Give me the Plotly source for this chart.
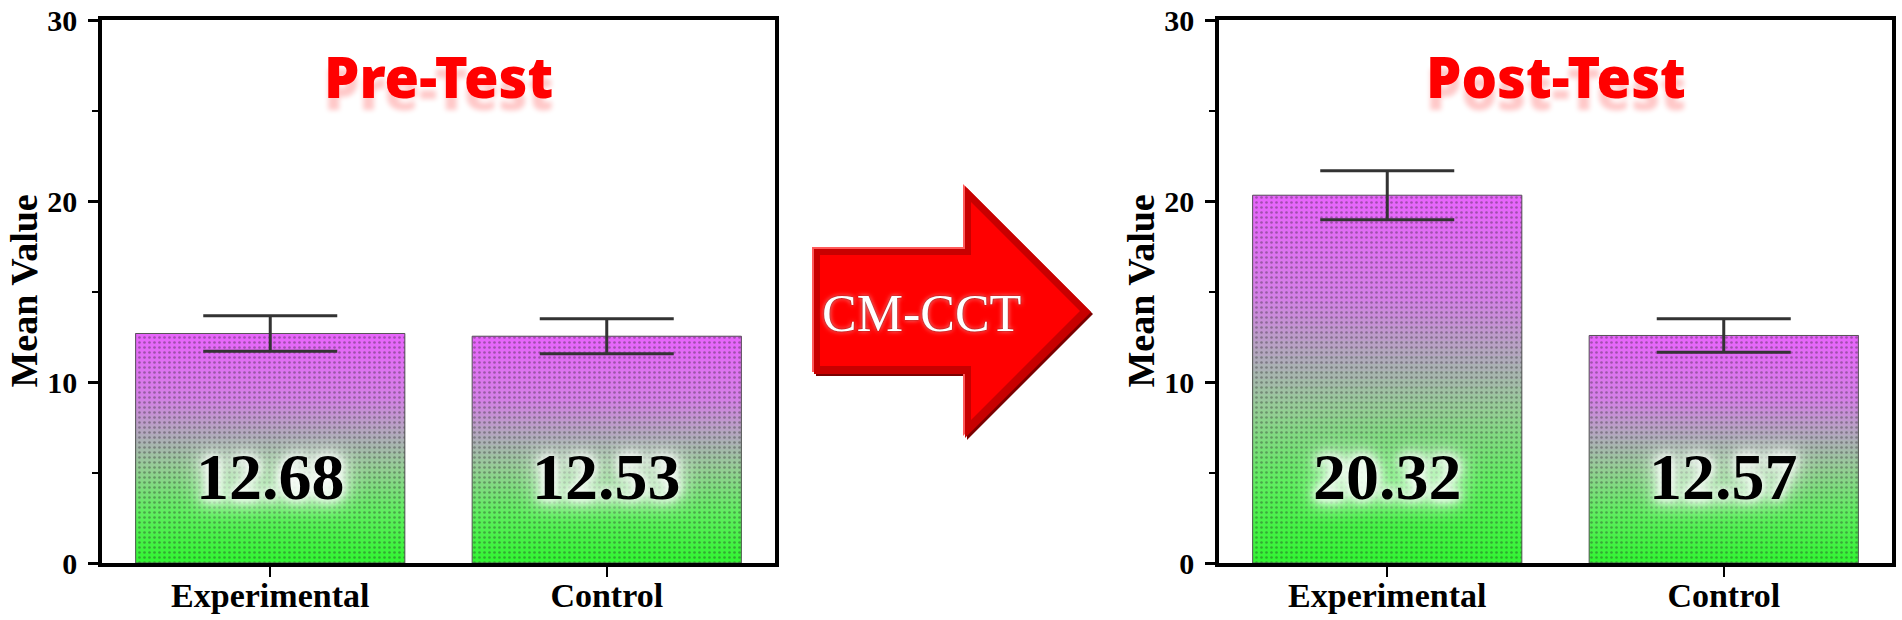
import plotly.graph_objects as go

# ---------------- data ----------------
categories = ["Experimental", "Control"]
pre_means = [12.68, 12.53]
pre_sd = [0.98, 0.97]
post_means = [20.32, 12.57]
post_sd = [1.35, 0.93]
panel_titles = ["Pre-Test", "Post-Test"]
y_ticks = [0, 10, 20, 30]
arrow_label = "CM-CCT"
axis_title = "Mean Value"

# ---------------- helpers ----------------
W, H = 1902, 620


def px(x):
    return x / W


def py(y):
    return 1 - y / H


STOPS = [
    (0.00, (50, 245, 50)),
    (0.22, (95, 238, 95)),
    (0.42, (150, 205, 150)),
    (0.55, (175, 172, 185)),
    (0.72, (212, 128, 230)),
    (1.00, (232, 100, 252)),
]


def grad(t):
    for (t0, c0), (t1, c1) in zip(STOPS[:-1], STOPS[1:]):
        if t <= t1:
            f = (t - t0) / (t1 - t0)
            c = [round(a + (b - a) * f) for a, b in zip(c0, c1)]
            return f"rgb({c[0]},{c[1]},{c[2]})"
    c = STOPS[-1][1]
    return f"rgb({c[0]},{c[1]},{c[2]})"


fig = go.Figure()
panels = [(pre_means, pre_sd, "x", "y"), (post_means, post_sd, "x2", "y2")]
N = 48
for means, sd, xa, ya in panels:
    # gradient fill layers (decoration of each bar)
    for k in range(N):
        t0 = k / N
        fig.add_trace(go.Bar(
            x=categories, y=[m * (1 - t0) for m in means], base=[m * t0 for m in means],
            width=0.8, marker=dict(color=grad((k + 0.5) / N), line=dict(width=0)),
            xaxis=xa, yaxis=ya, showlegend=False, hoverinfo="skip"))
    # the data bar: dotted texture, outline and error bars
    fig.add_trace(go.Bar(
        x=categories, y=means, width=0.8,
        marker=dict(color="rgba(0,0,0,0)", line=dict(color="#555555", width=1),
                    pattern=dict(shape=".", fgcolor="#202020", fgopacity=0.35, size=5,
                                 solidity=0.22, fillmode="overlay")),
        error_y=dict(type="data", array=sd, visible=True, color="#333333", thickness=3, width=67),
        xaxis=xa, yaxis=ya, showlegend=False))

serif = "Liberation Serif"
xstyle = dict(type="category", range=[-0.5, 1.5], showline=True, linecolor="black", linewidth=3.5,
              mirror=True, ticks="outside", ticklen=10, tickwidth=2, tickcolor="black",
              tickfont=dict(family=serif, size=34, color="black", weight="bold"),
              showgrid=False, zeroline=False, ticklabelstandoff=-11, automargin=False)
ystyle = dict(range=[0, 30], tickvals=y_ticks, showline=True, linecolor="black", linewidth=3.5,
              mirror=True, ticks="outside", ticklen=10, tickwidth=3, tickcolor="black",
              minor=dict(tick0=0, dtick=5, ticks="outside", ticklen=6, tickwidth=2, tickcolor="black"),
              tickfont=dict(family=serif, size=30, color="black", weight="bold"),
              showgrid=False, zeroline=False, ticklabelstandoff=5, automargin=False)

ydom = [py(563), py(20)]
fig.update_layout(
    width=W, height=H, margin=dict(l=0, r=0, t=0, b=0, pad=0, autoexpand=False),
    paper_bgcolor="white", plot_bgcolor="white", barmode="overlay", bargap=0.2,
    xaxis=dict(domain=[px(102), px(775)], anchor="y", **xstyle),
    yaxis=dict(domain=ydom, anchor="x", **ystyle),
    xaxis2=dict(domain=[px(1219), px(1892)], anchor="y2", **xstyle),
    yaxis2=dict(domain=ydom, anchor="x2", **ystyle),
)

annotations = []
glow = "0px 0px 8px #ffffff, 0px 0px 14px #ffffff, 0px 0px 22px #ffffff, 0px 0px 30px #ffffff"
for (means, sd, xa, ya), title, cx, tx in zip(panels, panel_titles, [(102 + 775) / 2, (1219 + 1892) / 2], [23, 1140]):
    for c, m in zip(categories, means):
        annotations.append(dict(x=c, y=4.8, xref=xa, yref=ya, text=f"{m:.2f}", showarrow=False,
                                xanchor="center", yanchor="middle",
                                font=dict(family=serif, size=66, color="black", weight="bold", shadow=glow)))
    annotations.append(dict(x=px(cx), y=py(76), xref="paper", yref="paper", text=title, showarrow=False,
                            xanchor="center", yanchor="middle",
                            font=dict(family="Noto Sans", size=56, color="#ff0000", weight=900,
                                      shadow="0px 12px 5px rgba(255,0,0,0.22)")))
    annotations.append(dict(x=px(tx), y=py(291.5), xref="paper", yref="paper", text=axis_title,
                            textangle=-90, showarrow=False, xanchor="center", yanchor="middle",
                            font=dict(family=serif, size=38, color="black", weight="bold")))

annotations.append(dict(x=px(921), y=py(313), xref="paper", yref="paper", text=arrow_label, showarrow=False,
                        xanchor="center", yanchor="middle",
                        font=dict(family=serif, size=52, color="white",
                                  shadow="0px 0px 2px #700000, 0px 0px 5px #ffb0b0")))
fig.update_layout(annotations=annotations)


# ---------------- arrow (decoration) ----------------
def path(points, dx=0, dy=0):
    return "M " + " L ".join(f"{px(x + dx):.5f},{py(y + dy):.5f}" for x, y in points) + " Z"


outer = [(813, 248), (964, 248), (964, 185), (1090, 311), (964, 437), (964, 373), (813, 373)]
inner = [(820, 255), (971, 255), (971, 202), (1080, 311), (971, 420), (971, 366), (820, 366)]
shapes = [
    dict(type="path", path=path(outer, 3, 3), xref="paper", yref="paper", fillcolor="#7a0000", line=dict(width=0)),
    dict(type="path", path=path(outer, -1, -1), xref="paper", yref="paper", fillcolor="#ff5a5a", line=dict(width=0)),
    dict(type="path", path=path(outer, 1, 1), xref="paper", yref="paper", fillcolor="#c80000", line=dict(width=0)),
    dict(type="path", path=path(inner), xref="paper", yref="paper", fillcolor="#ff0000", line=dict(width=0)),
]
fig.update_layout(shapes=shapes)

fig.write_html("out.html", config={"displayModeBar": False},
               post_script="document.body.style.margin='0';document.body.style.overflow='hidden';")
